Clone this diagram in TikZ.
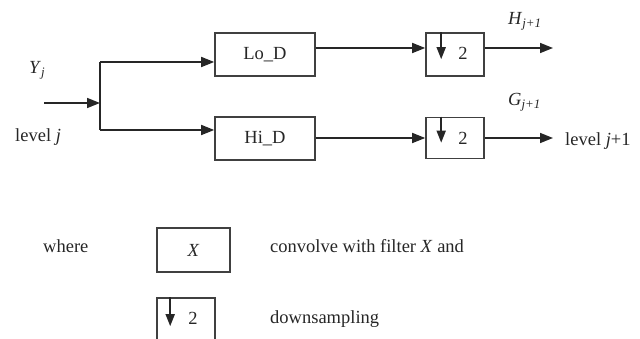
\documentclass[tikz,border=0pt]{standalone}
\usepackage{fontspec}
\setmainfont{Liberation Serif}
\usetikzlibrary{arrows.meta}
\tikzset{
  txt/.style={inner sep=0pt, font=\fontsize{18.5}{22}\selectfont, text=black!85},
  blk/.style={draw=black!75, line width=1.6pt, inner sep=0pt, font=\fontsize{18.5}{22}\selectfont, text=black!85},
  wire/.style={line width=1.6pt, draw=black!85},
  arr/.style={wire, -{Triangle[length=13pt,width=10pt]}},
  dnarr/.style={wire, -{Triangle[length=12pt,width=9pt]}}
}
\begin{document}
\begin{tikzpicture}[x=1pt,y=-1pt]
\useasboundingbox (0,0) rectangle (640,339);
% blocks
\node[blk, minimum width=100pt, minimum height=43pt] (lo) at (265,54.5) {Lo\_D};
\node[blk, minimum width=100pt, minimum height=43pt] (hi) at (265,138.5) {Hi\_D};
\node[blk, minimum width=58pt, minimum height=43pt] (d1) at (455,54.5) {};
\node[blk, minimum width=58pt, minimum height=41pt] (d2) at (455,138) {};
\node[txt] (t1) at (463,53) {2};
\node[txt] (t2) at (463,138) {2};
\draw[dnarr] ([xshift=16pt]d1.north west) -- ++(0,27);
\draw[dnarr] ([xshift=16pt]d2.north west) -- ++(0,26);
% input and split
\coordinate (in) at (44,103);
\coordinate (sp) at (100,103);
\coordinate (su) at (100,62);
\coordinate (sd) at (100,130);
\coordinate (ya) at (0,48);
\coordinate (yb) at (0,138);
\coordinate (oa) at (553,48);
\coordinate (ob) at (553,138);
\draw[arr] (in) -- (sp);
\draw[wire] (su) -- (sd);
\draw[arr] (su) -- (su -| lo.west);
\draw[arr] (sd) -- (sd -| hi.west);
\draw[arr] (lo.east |- ya) -- (d1.west |- ya);
\draw[arr] (hi.east |- yb) -- (d2.west |- yb);
\draw[arr] (d1.east |- ya) -- (oa);
\draw[arr] (d2.east |- yb) -- (ob);
% labels
\node[txt, anchor=base west] (yj) at (29,74) {\textit{Y}\textsubscript{\textit{j}}};
\node[txt, anchor=base west] (lvj) at (15,142) {level \textit{j}};
\node[txt, anchor=base west] (hj) at (508,25) {\textit{H}\textsubscript{\textit{j+1}}};
\node[txt, anchor=base west] (gj) at (508,106) {\textit{G}\textsubscript{\textit{j+1}}};
\node[txt, anchor=base west] (lvj1) at (565,146) {level \textit{j}+1};
% legend
\node[txt, anchor=base west] (wh) at (43,253) {where};
\node[blk, minimum width=73pt, minimum height=44pt] (xb) at (193.5,250) {\textit{X}};
\node[txt, anchor=base west] (cv) at (270,253) {convolve with filter \textit{X} and};
\node[blk, minimum width=58pt, minimum height=43pt] (d3) at (186,319.5) {};
\node[txt] (t3) at (193,318) {2};
\draw[dnarr] ([xshift=14pt]d3.north west) -- ++(0,29);
\node[txt, anchor=base west] (ds) at (270,323) {downsampling};
\end{tikzpicture}
\end{document}
